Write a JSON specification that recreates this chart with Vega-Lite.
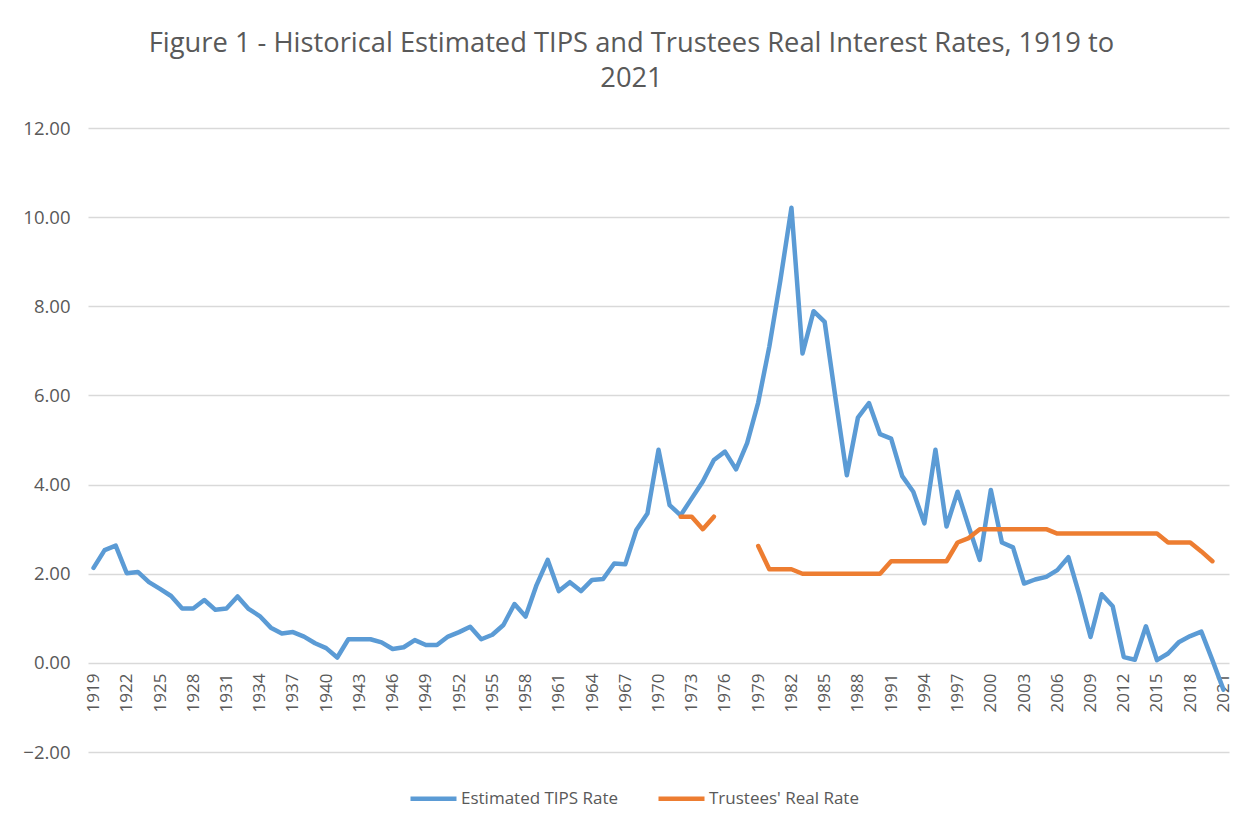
{
  "$schema": "https://vega.github.io/schema/vega-lite/v6.json",
  "autosize": {"type": "none"},
  "width": 1141,
  "height": 624,
  "padding": {"left": 88, "top": 128, "right": 19, "bottom": 70},
  "background": "white",
  "title": {
    "text": ["Figure 1 - Historical Estimated TIPS and Trustees Real Interest Rates, 1919 to", "2021"],
    "anchor": "middle",
    "frame": "group",
    "font": "Open Sans",
    "fontSize": 27.3,
    "fontWeight": "normal",
    "color": "#595959",
    "lineHeight": 35,
    "offset": 27,
    "dx": -27
  },
  "data": {
    "values": [
      {"year": 1919, "tips": 2.13, "trustees": null},
      {"year": 1920, "tips": 2.53, "trustees": null},
      {"year": 1921, "tips": 2.63, "trustees": null},
      {"year": 1922, "tips": 2.01, "trustees": null},
      {"year": 1923, "tips": 2.04, "trustees": null},
      {"year": 1924, "tips": 1.81, "trustees": null},
      {"year": 1925, "tips": 1.66, "trustees": null},
      {"year": 1926, "tips": 1.5, "trustees": null},
      {"year": 1927, "tips": 1.22, "trustees": null},
      {"year": 1928, "tips": 1.22, "trustees": null},
      {"year": 1929, "tips": 1.41, "trustees": null},
      {"year": 1930, "tips": 1.19, "trustees": null},
      {"year": 1931, "tips": 1.22, "trustees": null},
      {"year": 1932, "tips": 1.49, "trustees": null},
      {"year": 1933, "tips": 1.21, "trustees": null},
      {"year": 1934, "tips": 1.05, "trustees": null},
      {"year": 1935, "tips": 0.79, "trustees": null},
      {"year": 1936, "tips": 0.66, "trustees": null},
      {"year": 1937, "tips": 0.69, "trustees": null},
      {"year": 1938, "tips": 0.59, "trustees": null},
      {"year": 1939, "tips": 0.44, "trustees": null},
      {"year": 1940, "tips": 0.33, "trustees": null},
      {"year": 1941, "tips": 0.12, "trustees": null},
      {"year": 1942, "tips": 0.53, "trustees": null},
      {"year": 1943, "tips": 0.53, "trustees": null},
      {"year": 1944, "tips": 0.53, "trustees": null},
      {"year": 1945, "tips": 0.46, "trustees": null},
      {"year": 1946, "tips": 0.31, "trustees": null},
      {"year": 1947, "tips": 0.35, "trustees": null},
      {"year": 1948, "tips": 0.51, "trustees": null},
      {"year": 1949, "tips": 0.4, "trustees": null},
      {"year": 1950, "tips": 0.4, "trustees": null},
      {"year": 1951, "tips": 0.59, "trustees": null},
      {"year": 1952, "tips": 0.69, "trustees": null},
      {"year": 1953, "tips": 0.81, "trustees": null},
      {"year": 1954, "tips": 0.53, "trustees": null},
      {"year": 1955, "tips": 0.63, "trustees": null},
      {"year": 1956, "tips": 0.85, "trustees": null},
      {"year": 1957, "tips": 1.32, "trustees": null},
      {"year": 1958, "tips": 1.04, "trustees": null},
      {"year": 1959, "tips": 1.75, "trustees": null},
      {"year": 1960, "tips": 2.31, "trustees": null},
      {"year": 1961, "tips": 1.61, "trustees": null},
      {"year": 1962, "tips": 1.81, "trustees": null},
      {"year": 1963, "tips": 1.61, "trustees": null},
      {"year": 1964, "tips": 1.86, "trustees": null},
      {"year": 1965, "tips": 1.88, "trustees": null},
      {"year": 1966, "tips": 2.23, "trustees": null},
      {"year": 1967, "tips": 2.21, "trustees": null},
      {"year": 1968, "tips": 2.98, "trustees": null},
      {"year": 1969, "tips": 3.35, "trustees": null},
      {"year": 1970, "tips": 4.78, "trustees": null},
      {"year": 1971, "tips": 3.54, "trustees": null},
      {"year": 1972, "tips": 3.31, "trustees": 3.28},
      {"year": 1973, "tips": 3.69, "trustees": 3.28},
      {"year": 1974, "tips": 4.07, "trustees": 3.0},
      {"year": 1975, "tips": 4.55, "trustees": 3.28},
      {"year": 1976, "tips": 4.74, "trustees": null},
      {"year": 1977, "tips": 4.34, "trustees": null},
      {"year": 1978, "tips": 4.93, "trustees": null},
      {"year": 1979, "tips": 5.84, "trustees": 2.62},
      {"year": 1980, "tips": 7.09, "trustees": 2.1},
      {"year": 1981, "tips": 8.58, "trustees": 2.1},
      {"year": 1982, "tips": 10.21, "trustees": 2.1},
      {"year": 1983, "tips": 6.94, "trustees": 2.0},
      {"year": 1984, "tips": 7.89, "trustees": 2.0},
      {"year": 1985, "tips": 7.65, "trustees": 2.0},
      {"year": 1986, "tips": 5.9, "trustees": 2.0},
      {"year": 1987, "tips": 4.21, "trustees": 2.0},
      {"year": 1988, "tips": 5.5, "trustees": 2.0},
      {"year": 1989, "tips": 5.83, "trustees": 2.0},
      {"year": 1990, "tips": 5.13, "trustees": 2.0},
      {"year": 1991, "tips": 5.03, "trustees": 2.28},
      {"year": 1992, "tips": 4.19, "trustees": 2.28},
      {"year": 1993, "tips": 3.84, "trustees": 2.28},
      {"year": 1994, "tips": 3.13, "trustees": 2.28},
      {"year": 1995, "tips": 4.78, "trustees": 2.28},
      {"year": 1996, "tips": 3.06, "trustees": 2.28},
      {"year": 1997, "tips": 3.84, "trustees": 2.7},
      {"year": 1998, "tips": 3.06, "trustees": 2.8},
      {"year": 1999, "tips": 2.31, "trustees": 3.0},
      {"year": 2000, "tips": 3.88, "trustees": 3.0},
      {"year": 2001, "tips": 2.7, "trustees": 3.0},
      {"year": 2002, "tips": 2.59, "trustees": 3.0},
      {"year": 2003, "tips": 1.78, "trustees": 3.0},
      {"year": 2004, "tips": 1.87, "trustees": 3.0},
      {"year": 2005, "tips": 1.93, "trustees": 3.0},
      {"year": 2006, "tips": 2.08, "trustees": 2.9},
      {"year": 2007, "tips": 2.37, "trustees": 2.9},
      {"year": 2008, "tips": 1.52, "trustees": 2.9},
      {"year": 2009, "tips": 0.58, "trustees": 2.9},
      {"year": 2010, "tips": 1.54, "trustees": 2.9},
      {"year": 2011, "tips": 1.27, "trustees": 2.9},
      {"year": 2012, "tips": 0.13, "trustees": 2.9},
      {"year": 2013, "tips": 0.07, "trustees": 2.9},
      {"year": 2014, "tips": 0.82, "trustees": 2.9},
      {"year": 2015, "tips": 0.06, "trustees": 2.9},
      {"year": 2016, "tips": 0.21, "trustees": 2.7},
      {"year": 2017, "tips": 0.47, "trustees": 2.7},
      {"year": 2018, "tips": 0.6, "trustees": 2.7},
      {"year": 2019, "tips": 0.7, "trustees": 2.5},
      {"year": 2020, "tips": 0.06, "trustees": 2.28},
      {"year": 2021, "tips": -0.6, "trustees": null}
    ]
  },
  "transform": [{"fold": ["tips", "trustees"], "as": ["series", "rate"]}],
  "mark": {
    "type": "line",
    "strokeWidth": 4.5,
    "strokeCap": "round",
    "strokeJoin": "round",
    "invalid": "break-paths-show-domains"
  },
  "encoding": {
    "x": {
      "field": "year",
      "type": "ordinal",
      "scale": {"type": "point", "padding": 0.5},
      "axis": {
        "title": null,
        "values": [1919, 1922, 1925, 1928, 1931, 1934, 1937, 1940, 1943, 1946, 1949, 1952, 1955, 1958, 1961, 1964, 1967, 1970, 1973, 1976, 1979, 1982, 1985, 1988, 1991, 1994, 1997, 2000, 2003, 2006, 2009, 2012, 2015, 2018, 2021],
        "labelAngle": -90,
        "labelFont": "Open Sans",
        "labelFontSize": 17,
        "labelColor": "#595959",
        "labelPadding": 10,
        "ticks": false,
        "domain": false,
        "grid": false,
        "offset": -89
      }
    },
    "y": {
      "field": "rate",
      "type": "quantitative",
      "scale": {"domain": [-2, 12], "nice": false, "zero": false},
      "axis": {
        "title": null,
        "values": [-2, 0, 2, 4, 6, 8, 10, 12],
        "format": ".2f",
        "labelFont": "Open Sans",
        "labelFontSize": 18.5,
        "labelColor": "#595959",
        "labelPadding": 18,
        "ticks": false,
        "domain": false,
        "gridColor": "#d9d9d9",
        "gridWidth": 1.3
      }
    },
    "color": {
      "field": "series",
      "type": "nominal",
      "scale": {"domain": ["tips", "trustees"], "range": ["#5b9bd5", "#ed7d31"]},
      "legend": {
        "orient": "none",
        "legendX": 320,
        "legendY": 645,
        "direction": "horizontal",
        "title": null,
        "symbolType": "stroke",
        "symbolSize": 2116,
        "symbolStrokeWidth": 4.5,
        "labelFont": "Open Sans",
        "labelFontSize": 17,
        "labelColor": "#595959",
        "labelOffset": 2,
        "columnPadding": 30,
        "labelExpr": "datum.label == 'tips' ? 'Estimated TIPS Rate' : \"Trustees' Real Rate\""
      }
    }
  },
  "config": {"view": {"stroke": null}}
}
